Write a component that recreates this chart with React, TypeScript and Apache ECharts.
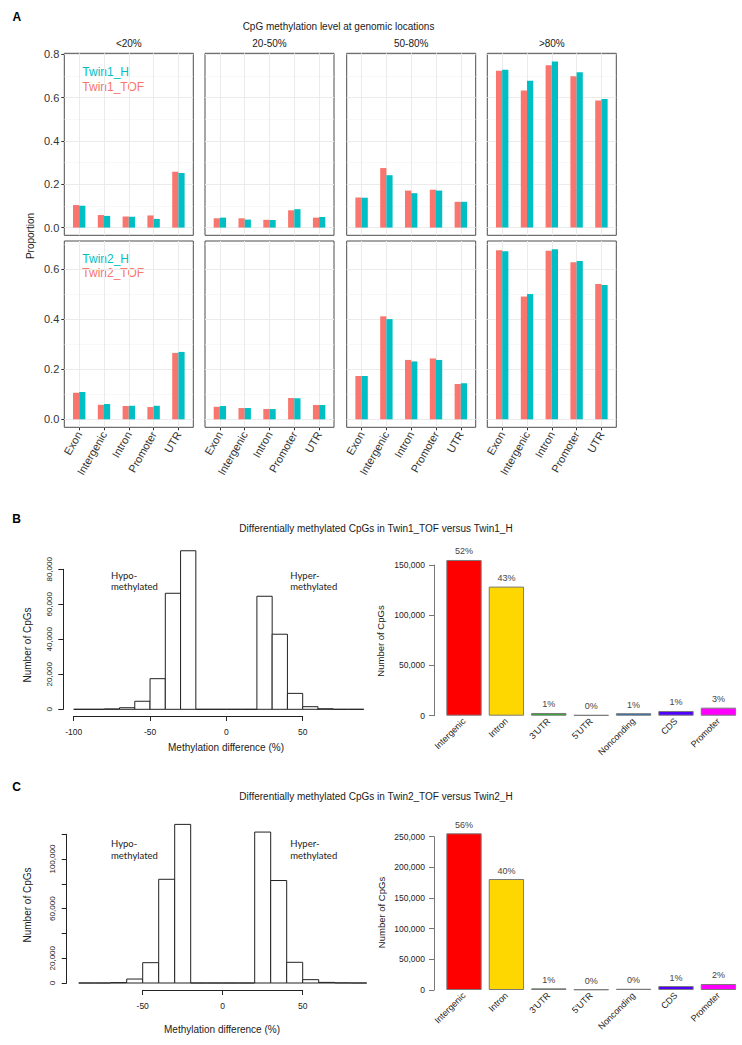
import React, { useEffect, useRef } from 'react';
import * as echarts from 'echarts';

// ---------- Panel A data ----------
const locations = ['Exon', 'Intergenic', 'Intron', 'Promoter', 'UTR'];
const levels = ['<20%', '20-50%', '50-80%', '>80%'];
const yTicksTop = [0, 0.2, 0.4, 0.6, 0.8];
const yTicksBottom = [0, 0.2, 0.4, 0.6];
const yMinor = [0.1, 0.3, 0.5, 0.7];

const twin1TOF_lt20 = [0.104, 0.058, 0.051, 0.056, 0.258];
const twin1H_lt20 = [0.101, 0.054, 0.050, 0.040, 0.252];
const twin1TOF_20to50 = [0.043, 0.043, 0.036, 0.080, 0.046];
const twin1H_20to50 = [0.046, 0.037, 0.035, 0.085, 0.049];
const twin1TOF_50to80 = [0.139, 0.275, 0.171, 0.175, 0.119];
const twin1H_50to80 = [0.138, 0.242, 0.159, 0.171, 0.119];
const twin1TOF_gt80 = [0.724, 0.633, 0.750, 0.699, 0.587];
const twin1H_gt80 = [0.729, 0.678, 0.767, 0.718, 0.594];

const twin2TOF_lt20 = [0.106, 0.058, 0.053, 0.049, 0.265];
const twin2H_lt20 = [0.109, 0.061, 0.054, 0.054, 0.269];
const twin2TOF_20to50 = [0.050, 0.045, 0.041, 0.085, 0.057];
const twin2H_20to50 = [0.053, 0.045, 0.041, 0.084, 0.057];
const twin2TOF_50to80 = [0.173, 0.411, 0.237, 0.243, 0.141];
const twin2H_50to80 = [0.173, 0.400, 0.231, 0.237, 0.144];
const twin2TOF_gt80 = [0.675, 0.490, 0.673, 0.627, 0.540];
const twin2H_gt80 = [0.671, 0.500, 0.679, 0.632, 0.536];

// ---------- Panel B / C histogram data ----------
const binStartsB = [-100, -90, -80, -70, -60, -50, -40, -30, -20, -10, 0, 10, 20, 30, 40, 50, 60, 70, 80];
const histCountsB = [0, 0, 200, 900, 4600, 17500, 66300, 90600, 0, 0, 0, 0, 64600, 42900, 9100, 1500, 300, 0, 0];
const binStartsC = [-90, -80, -70, -60, -50, -40, -30, -20, -10, 0, 10, 20, 30, 40, 50, 60, 70, 80];
const histCountsC = [0, 0, 300, 3200, 16400, 83700, 128000, 0, 0, 0, 0, 121800, 82700, 16700, 2700, 500, 100, 0];
const BIN_WIDTH = 10;
const histXTicksB = [-100, -50, 0, 50];
const histYTicksB = [0, 20000, 40000, 60000, 80000];
const histXTicksC = [-50, 0, 50];
const histYTicksC = [0, 20000, 40000, 60000, 80000, 100000, 120000];
const histYLabelsC = [0, 20000, 60000, 100000];

// ---------- Panel B / C region bar data ----------
const regions = ['Intergenic', 'Intron', "3'UTR", "5'UTR", 'Nonconding', 'CDS', 'Promoter'];
const regionColors = ['#FF0000', '#FFD700', '#1DB81D', '#8A8A8A', '#1E6FB8', '#5000FF', '#FF00FF'];
const regionCountsB = [155000, 128500, 2700, 700, 2500, 4700, 8000];
const regionPctB = ['52%', '43%', '1%', '0%', '1%', '1%', '3%'];
const regionCountsC = [255500, 181000, 2700, 1000, 2000, 6500, 9800];
const regionPctC = ['56%', '40%', '1%', '0%', '0%', '1%', '2%'];

const FONT = 'Liberation Sans, Arial, Helvetica, sans-serif';
const TOF_COLOR = '#F8766D';
const H_COLOR = '#00BFC4';

const comma = (v: number) => Math.round(v).toLocaleString('en-US');

function buildOption() {
  const grid: any[] = [];
  const xAxis: any[] = [];
  const yAxis: any[] = [];
  const series: any[] = [];
  const locIdx = locations.map((_, i) => i + 1);

  const rows = [
    {
      top: 53.3, height: 182, min: -0.0356, max: 0.805, ticks: yTicksTop, bottom: false,
      data: [[twin1TOF_lt20, twin1H_lt20], [twin1TOF_20to50, twin1H_20to50], [twin1TOF_50to80, twin1H_50to80], [twin1TOF_gt80, twin1H_gt80]],
    },
    {
      top: 241, height: 186.3, min: -0.0319, max: 0.7118, ticks: yTicksBottom, bottom: true,
      data: [[twin2TOF_lt20, twin2H_lt20], [twin2TOF_20to50, twin2H_20to50], [twin2TOF_50to80, twin2H_50to80], [twin2TOF_gt80, twin2H_gt80]],
    },
  ];
  const colLefts = [64.3, 205, 346.7, 487.3];
  const PW = 129;

  const mkBar = (vals: number[], side: number, color: string, gi: number) => ({
    type: 'custom', xAxisIndex: gi, yAxisIndex: gi, clip: false, silent: true, z: 3,
    data: vals.map((v, i) => [locIdx[i], v]),
    renderItem: (params: any, api: any) => {
      const x = api.value(0);
      const v = api.value(1);
      const p = api.coord([x, v]);
      const b = api.coord([x, 0]);
      const w = api.size([0.25, 0])[0];
      return {
        type: 'rect',
        shape: { x: side === 0 ? p[0] - w : p[0], y: p[1], width: w, height: b[1] - p[1] },
        style: { fill: color },
      };
    },
  });

  rows.forEach((row) => {
    row.data.forEach((pair, c) => {
      const gi = grid.length;
      grid.push({
        left: colLefts[c], top: row.top, width: PW, height: row.height,
        show: true, borderColor: '#4d4d4d', borderWidth: 1, backgroundColor: '#fff',
      });
      xAxis.push({
        type: 'value', gridIndex: gi, min: 0.4, max: 5.6,
        axisLine: { show: false, onZero: false },
        splitLine: { show: false },
        axisTick: { show: row.bottom, customValues: locIdx, length: 3, lineStyle: { color: '#333' } },
        axisLabel: {
          show: row.bottom, customValues: locIdx, rotate: 60, fontSize: 11, color: '#333', margin: 5,
          formatter: (v: number) => locations[Math.round(v) - 1] ?? '',
        },
      });
      yAxis.push({
        type: 'value', gridIndex: gi, min: row.min, max: row.max,
        axisLine: { show: false, onZero: false },
        splitLine: { show: false },
        axisTick: { show: c === 0, customValues: row.ticks, length: 3, lineStyle: { color: '#333' } },
        axisLabel: {
          show: c === 0, customValues: row.ticks, fontSize: 11, color: '#333', margin: 5,
          formatter: (v: number) => v.toFixed(1),
        },
      });
      const major = { color: '#EBEBEB', width: 1, type: 'solid' };
      const minor = { color: '#F3F3F3', width: 0.6, type: 'solid' };
      series.push({
        type: 'line', xAxisIndex: gi, yAxisIndex: gi, data: [], silent: true,
        markLine: {
          silent: true, z: 1, symbol: ['none', 'none'], label: { show: false }, emphasis: { disabled: true },
          data: [
            ...row.ticks.map((v) => ({ yAxis: v, lineStyle: major })),
            ...yMinor.filter((v) => v < row.max).map((v) => ({ yAxis: v, lineStyle: minor })),
            ...locIdx.map((v) => ({ xAxis: v, lineStyle: major })),
          ],
        },
      });
      series.push(mkBar(pair[0], 0, TOF_COLOR, gi));
      series.push(mkBar(pair[1], 1, H_COLOR, gi));
    });
  });

  // ---------- Histograms ----------
  const mkHist = (starts: number[], counts: number[], gi: number) => ({
    type: 'custom', xAxisIndex: gi, yAxisIndex: gi, clip: false, silent: true, z: 3,
    data: starts.map((s, i) => [s, s + BIN_WIDTH, counts[i]]),
    encode: { x: [0, 1], y: 2 },
    renderItem: (params: any, api: any) => {
      const a = api.coord([api.value(0), api.value(2)]);
      const b = api.coord([api.value(1), 0]);
      return {
        type: 'polygon',
        shape: { points: [[a[0], b[1]], [a[0], a[1]], [b[0], a[1]], [b[0], b[1]]] },
        style: { fill: '#fff', stroke: '#222', lineWidth: 1 },
      };
    },
  });

  const histAxes = (gi: number, xmin: number, xmax: number, ymax: number, yInt: number, xOff: number, yOff: number, yLabels: number[] | null) => {
    xAxis.push({
      type: 'value', gridIndex: gi, min: xmin, max: xmax, interval: 50, offset: xOff,
      axisLine: { show: true, onZero: false, lineStyle: { color: '#222', width: 1 } },
      axisTick: { show: true, length: 5, lineStyle: { color: '#222' } },
      axisLabel: { fontSize: 8.5, color: '#222', margin: 11 },
      splitLine: { show: false },
    });
    yAxis.push({
      type: 'value', gridIndex: gi, min: 0, max: ymax, interval: yInt, offset: yOff,
      axisLine: { show: true, onZero: false, lineStyle: { color: '#222', width: 1 } },
      axisTick: { show: true, length: 5, lineStyle: { color: '#222' } },
      axisLabel: {
        rotate: 90, fontSize: 8, color: '#222', margin: 10,
        formatter: (v: number) => (yLabels && !yLabels.includes(v) ? '' : comma(v)),
      },
      splitLine: { show: false },
    });
  };

  // B histogram
  let gi = grid.length;
  grid.push({ left: 73.7, top: 569.3, width: 229, height: 140 });
  histAxes(gi, histXTicksB[0], histXTicksB[histXTicksB.length - 1], histYTicksB[histYTicksB.length - 1], 20000, 6.7, 10.4, null);
  series.push(mkHist(binStartsB, histCountsB, gi));

  // C histogram
  gi = grid.length;
  grid.push({ left: 142.7, top: 834.3, width: 160, height: 148.7 });
  histAxes(gi, histXTicksC[0], histXTicksC[histXTicksC.length - 1], histYTicksC[histYTicksC.length - 1], 20000, 7, 76, histYLabelsC);
  series.push(mkHist(binStartsC, histCountsC, gi));

  // ---------- Region bar charts ----------
  const mkRegion = (top: number, height: number, ymax: number, counts: number[], pct: string[]) => {
    const g = grid.length;
    grid.push({ left: 442.8, top, width: 296.8, height });
    xAxis.push({
      type: 'category', gridIndex: g, data: regions,
      axisLine: { show: false, onZero: false }, axisTick: { show: false },
      axisLabel: { interval: 0, rotate: 45, fontSize: 9, color: '#222', margin: 4 },
      splitLine: { show: false },
    });
    yAxis.push({
      type: 'value', gridIndex: g, min: 0, max: ymax, interval: 50000, offset: 8.8,
      axisLine: { show: true, onZero: false, lineStyle: { color: '#777', width: 1 } },
      axisTick: { show: true, length: 5, lineStyle: { color: '#777' } },
      axisLabel: { fontSize: 8.5, color: '#222', margin: 9, formatter: (v: number) => comma(v) },
      splitLine: { show: false },
    });
    series.push({
      type: 'bar', xAxisIndex: g, yAxisIndex: g, clip: false, silent: true,
      barWidth: '83.3%',
      data: counts.map((v, i) => ({ value: v, itemStyle: { color: regionColors[i] } })),
      itemStyle: { borderColor: '#7a7a7a', borderWidth: 1 },
      label: {
        show: true, position: 'top', distance: 4, fontSize: 9, color: '#444',
        formatter: (p: any) => pct[p.dataIndex],
      },
    });
  };
  mkRegion(565, 150.7, 150000, regionCountsB, regionPctB);
  mkRegion(836.7, 153.3, 250000, regionCountsC, regionPctC);

  // ---------- Texts ----------
  const t = (text: string, x: number, y: number, o: any = {}) => ({
    type: 'text', x, y, rotation: o.rotation || 0, silent: true,
    style: {
      text, fontSize: o.size || 10, fontFamily: o.family || FONT, fontWeight: o.weight || 'normal',
      fill: o.color || '#1a1a1a', textAlign: o.align || 'center', textVerticalAlign: 'middle',
    },
  });
  const ROT = Math.PI / 2;
  const HYPO_FONT = 'Lato, Noto Sans, sans-serif';
  const elements: any[] = [
    t('A', 12.5, 17, { size: 12, weight: 'bold', align: 'left', color: '#000' }),
    t('CpG methylation level at genomic locations', 338.5, 26, { size: 10 }),
    ...levels.map((l, i) => t(l, colLefts[i] + PW / 2, 43.5, { size: 10 })),
    t('Proportion', 30, 236, { size: 10, rotation: ROT }),
    t('Twin1_H', 82.3, 71.7, { size: 12, align: 'left', color: H_COLOR }),
    t('Twin1_TOF', 82.3, 86.7, { size: 12, align: 'left', color: TOF_COLOR }),
    t('Twin2_H', 82.3, 259, { size: 12, align: 'left', color: H_COLOR }),
    t('Twin2_TOF', 82.3, 273.3, { size: 12, align: 'left', color: TOF_COLOR }),

    t('B', 12.3, 519.3, { size: 12, weight: 'bold', align: 'left', color: '#000' }),
    t('Differentially methylated CpGs in Twin1_TOF versus Twin1_H', 376, 528, { size: 10 }),
    t('Hypo-', 111, 575, { size: 9.5, align: 'left', family: HYPO_FONT, color: '#222' }),
    t('methylated', 111, 586, { size: 9.5, align: 'left', family: HYPO_FONT, color: '#222' }),
    t('Hyper-', 290.3, 575, { size: 9.5, align: 'left', family: HYPO_FONT, color: '#222' }),
    t('methylated', 290.3, 586, { size: 9.5, align: 'left', family: HYPO_FONT, color: '#222' }),
    t('Number of CpGs', 27.7, 645, { size: 10, rotation: ROT }),
    t('Methylation difference (%)', 226, 747.7, { size: 10 }),
    t('Number of CpGs', 380, 641, { size: 9.5, rotation: ROT }),

    t('C', 12.3, 787.3, { size: 12, weight: 'bold', align: 'left', color: '#000' }),
    t('Differentially methylated CpGs in Twin2_TOF versus Twin2_H', 376, 796.7, { size: 10 }),
    t('Hypo-', 111, 843.3, { size: 9.5, align: 'left', family: HYPO_FONT, color: '#222' }),
    t('methylated', 111, 855, { size: 9.5, align: 'left', family: HYPO_FONT, color: '#222' }),
    t('Hyper-', 290.3, 843.3, { size: 9.5, align: 'left', family: HYPO_FONT, color: '#222' }),
    t('methylated', 290.3, 855, { size: 9.5, align: 'left', family: HYPO_FONT, color: '#222' }),
    t('Number of CpGs', 27, 905, { size: 10, rotation: ROT }),
    t('Methylation difference (%)', 222, 1029, { size: 10 }),
    t('Number of CpGs', 381.7, 912.5, { size: 9.5, rotation: ROT }),
  ];

  return {
    animation: false,
    backgroundColor: '#fff',
    textStyle: { fontFamily: FONT },
    grid, xAxis, yAxis, series,
    graphic: { elements },
  };
}

export default function App() {
  const ref = useRef<HTMLDivElement>(null);
  useEffect(() => {
    document.body.style.margin = '0';
    if (!ref.current) return;
    const chart = echarts.init(ref.current, null, { renderer: 'svg', width: 742, height: 1045 });
    chart.setOption(buildOption() as any);
    return () => chart.dispose();
  }, []);
  return <div ref={ref} style={{ position: 'absolute', left: 0, top: 0, width: 742, height: 1045 }} />;
}
